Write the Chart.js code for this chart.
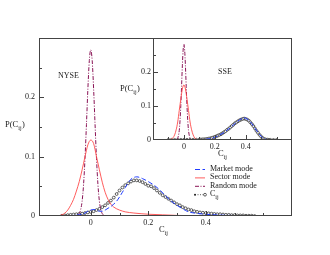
<!DOCTYPE html>
<html>
<head>
<meta charset="utf-8">
<script src="https://cdn.jsdelivr.net/npm/chart.js@4"></script>
<style>
  body { margin: 0; background: #fff; }
  #wrap { position: relative; width: 330px; height: 255px; }
  #main { position: absolute; left: 0; top: 0; }
  #inset { position: absolute; left: 100px; top: 20px; }
</style>
</head>
<body>
<div id="wrap">
  <canvas id="main" width="330" height="255"></canvas>
  <canvas id="inset" width="200" height="150"></canvas>
</div>
<script>
// --- Data ---
const seriesNames = ['Market mode', 'Sector mode', 'Random mode', 'C'];
const xTickLabels = [0, 0.2, 0.4];
const yTickLabels = [0, 0.1, 0.2];

// NYSE (main panel)
const nyseMarket = [[-0.18,0],[-0.1,0.0005],[-0.06,0.001],[-0.04,0.002],[-0.02,0.005],[-0.01,0.008],[0,0.01],[0.01,0.011],[0.02,0.01],[0.03,0.008],[0.04,0.008],[0.05,0.01],[0.06,0.013],[0.07,0.016],[0.08,0.02],[0.09,0.025],[0.1,0.032],[0.11,0.04],[0.12,0.048],[0.13,0.056],[0.14,0.062],[0.15,0.065],[0.16,0.066],[0.17,0.065],[0.18,0.063],[0.2,0.058],[0.22,0.052],[0.24,0.044],[0.26,0.034],[0.28,0.025],[0.3,0.018],[0.32,0.012],[0.34,0.007],[0.36,0.005],[0.4,0.003],[0.45,0.0015],[0.5,0.0008],[0.6,0.0003],[0.7,0]];
const nyseSector = [[-0.18,0],[-0.12,0],[-0.1,0.002],[-0.09,0.005],[-0.08,0.01],[-0.07,0.018],[-0.06,0.028],[-0.05,0.042],[-0.04,0.058],[-0.03,0.078],[-0.02,0.1],[-0.01,0.12],[0,0.128],[0.01,0.122],[0.02,0.1],[0.03,0.078],[0.04,0.057],[0.05,0.04],[0.06,0.028],[0.07,0.02],[0.08,0.015],[0.1,0.01],[0.12,0.007],[0.15,0.005],[0.2,0.003],[0.25,0.002],[0.3,0.001],[0.4,0.0005],[0.5,0],[0.7,0]];
const nyseRandom = [[-0.18,0],[-0.06,0],[-0.05,0.0005],[-0.04,0.004],[-0.035,0.011],[-0.03,0.025],[-0.025,0.053],[-0.02,0.097],[-0.015,0.154],[-0.01,0.214],[-0.005,0.262],[0,0.28],[0.005,0.262],[0.01,0.214],[0.015,0.154],[0.02,0.097],[0.025,0.053],[0.03,0.025],[0.035,0.011],[0.04,0.004],[0.05,0.0005],[0.06,0],[0.7,0]];
const nyseCij = [[-0.1,0.0005],[-0.09,0.001],[-0.08,0.0015],[-0.07,0.002],[-0.06,0.0025],[-0.05,0.003],[-0.04,0.0035],[-0.03,0.004],[-0.02,0.005],[-0.01,0.006],[0,0.007],[0.01,0.008],[0.02,0.01],[0.03,0.012],[0.04,0.015],[0.05,0.018],[0.06,0.022],[0.07,0.026],[0.08,0.031],[0.09,0.037],[0.1,0.043],[0.11,0.048],[0.12,0.052],[0.13,0.055],[0.14,0.058],[0.15,0.06],[0.16,0.06],[0.17,0.059],[0.18,0.057],[0.19,0.054],[0.2,0.051],[0.21,0.05],[0.22,0.047],[0.23,0.043],[0.24,0.039],[0.25,0.035],[0.26,0.032],[0.27,0.029],[0.28,0.026],[0.29,0.023],[0.3,0.02],[0.31,0.018],[0.32,0.015],[0.33,0.013],[0.34,0.011],[0.35,0.01],[0.36,0.008],[0.37,0.007],[0.38,0.006],[0.39,0.0055],[0.4,0.005],[0.41,0.0045],[0.42,0.004],[0.43,0.0035],[0.44,0.003],[0.45,0.003],[0.46,0.0025],[0.47,0.002],[0.48,0.002],[0.49,0.0015],[0.5,0.0015],[0.51,0.001],[0.52,0.001],[0.53,0.001],[0.54,0.0005],[0.55,0.0005],[0.56,0.0005],[0.57,0]];

// SSE (inset)
const sseMarket = [[-0.2,0],[0,0.0005],[0.1,0.001],[0.14,0.002],[0.18,0.005],[0.2,0.008],[0.22,0.012],[0.24,0.017],[0.26,0.022],[0.28,0.029],[0.3,0.036],[0.32,0.044],[0.34,0.052],[0.36,0.059],[0.38,0.064],[0.39,0.065],[0.4,0.064],[0.42,0.058],[0.44,0.048],[0.46,0.035],[0.48,0.022],[0.5,0.011],[0.52,0.004],[0.54,0.001],[0.56,0],[0.7,0]];
const sseSector = [[-0.2,0],[-0.11,0],[-0.1,0.0005],[-0.09,0.001],[-0.08,0.003],[-0.07,0.007],[-0.06,0.015],[-0.05,0.03],[-0.04,0.053],[-0.03,0.087],[-0.02,0.12],[-0.01,0.15],[0,0.162],[0.01,0.15],[0.02,0.12],[0.03,0.087],[0.04,0.053],[0.05,0.03],[0.06,0.015],[0.07,0.006],[0.08,0.002],[0.1,0],[0.7,0]];
const sseRandom = [[-0.2,0],[-0.05,0],[-0.04,0.005],[-0.03,0.028],[-0.025,0.057],[-0.02,0.101],[-0.015,0.158],[-0.01,0.218],[-0.005,0.264],[0,0.282],[0.005,0.264],[0.01,0.218],[0.015,0.158],[0.02,0.101],[0.025,0.057],[0.03,0.028],[0.04,0.005],[0.05,0],[0.7,0]];
const sseCij = [[-0.1,0.0005],[-0.08,0.0005],[-0.06,0.0005],[-0.04,0.0005],[-0.02,0.0005],[0,0.0005],[0.02,0.0005],[0.04,0.0005],[0.06,0.0007],[0.08,0.001],[0.1,0.0012],[0.11,0.0015],[0.12,0.0018],[0.13,0.002],[0.14,0.0025],[0.15,0.003],[0.16,0.004],[0.17,0.005],[0.18,0.006],[0.19,0.0075],[0.2,0.009],[0.21,0.011],[0.22,0.013],[0.23,0.015],[0.24,0.017],[0.25,0.02],[0.26,0.023],[0.27,0.026],[0.28,0.03],[0.29,0.033],[0.3,0.037],[0.31,0.041],[0.32,0.045],[0.33,0.049],[0.34,0.052],[0.35,0.055],[0.36,0.058],[0.37,0.06],[0.38,0.062],[0.39,0.063],[0.4,0.062],[0.41,0.06],[0.42,0.057],[0.43,0.052],[0.44,0.047],[0.45,0.041],[0.46,0.034],[0.47,0.027],[0.48,0.021],[0.49,0.015],[0.5,0.01],[0.51,0.006],[0.52,0.003],[0.53,0.0015],[0.54,0.001],[0.55,0.0005],[0.56,0.0005],[0.58,0.0003],[0.6,0.0002]];

// --- Styles ---
const FONT = '"Liberation Serif", "Times New Roman", serif';
const INK = '#222';
const styles = [
  { borderColor: '#1f3cff', borderDash: [5, 2.5], borderWidth: 1 },
  { borderColor: '#ff4a4a', borderDash: [], borderWidth: 0.9 },
  { borderColor: '#8a1456', borderDash: [4, 1.5, 1, 1.5], borderWidth: 1 },
  { borderColor: '#333', borderDash: [1, 1.5], borderWidth: 0.8, pointRadius: 1.4 }
];

function pts(arr) { return arr.map(p => ({ x: p[0], y: p[1] })); }
const isLabel = (v, list) => list.some(l => Math.abs(l - v) < 1e-6);
const fmt = v => String(Math.round(v * 100) / 100);

function buildDatasets(series) {
  return series.map((s, i) => ({
    label: seriesNames[i],
    data: pts(s),
    borderColor: styles[i].borderColor,
    borderDash: styles[i].borderDash,
    borderWidth: styles[i].borderWidth,
    pointRadius: styles[i].pointRadius || 0,
    pointBorderColor: '#222',
    pointBackgroundColor: '#fff',
    pointBorderWidth: 0.7,
    fill: false,
    cubicInterpolationMode: 'monotone'
  }));
}

// text with a subscript, e.g. P(C_ij)
function subText(ctx, x, y, pre, sub, post, size) {
  ctx.font = size + 'px ' + FONT;
  ctx.fillText(pre, x, y);
  let w = ctx.measureText(pre).width;
  ctx.font = Math.round(size * 0.72) + 'px ' + FONT;
  ctx.fillText(sub, x + w, y + size * 0.35);
  w += ctx.measureText(sub).width + 0.5;
  ctx.font = size + 'px ' + FONT;
  if (post) ctx.fillText(post, x + w, y);
}

// frame + inward tick marks
const frame = {
  id: 'frame',
  afterDraw(chart) {
    const { ctx, chartArea: a, scales } = chart;
    ctx.save();
    ctx.strokeStyle = '#444';
    ctx.lineWidth = 1;
    ctx.strokeRect(a.left + 0.5, a.top + 0.5, a.right - a.left - 1, a.bottom - a.top - 1);
    const sx = scales.x, sy = scales.y;
    ctx.beginPath();
    sx.ticks.forEach(t => {
      if (Math.abs(t.value - sx.min) < 1e-6 || Math.abs(t.value - sx.max) < 1e-6) return;
      const px = Math.round(sx.getPixelForValue(t.value)) + 0.5;
      const len = isLabel(t.value, xTickLabels) ? 5 : 3;
      ctx.moveTo(px, a.bottom); ctx.lineTo(px, a.bottom - len);
    });
    sy.ticks.forEach(t => {
      if (Math.abs(t.value - sy.min) < 1e-6 || Math.abs(t.value - sy.max) < 1e-6) return;
      const py = Math.round(sy.getPixelForValue(t.value)) + 0.5;
      const len = isLabel(t.value, yTickLabels) ? 5 : 3;
      ctx.moveTo(a.left, py); ctx.lineTo(a.left + len, py);
    });
    ctx.stroke();
    ctx.restore();
  }
};

// free texts: axis titles and panel names
const notes = {
  id: 'notes',
  afterDraw(chart, args, opts) {
    const ctx = chart.ctx;
    ctx.save();
    ctx.fillStyle = INK;
    ctx.textBaseline = 'alphabetic';
    ctx.textAlign = 'left';
    subText(ctx, opts.ylab[0], opts.ylab[1], 'P(C', 'ij', ')', 8.5);
    subText(ctx, opts.xlab[0], opts.xlab[1], 'C', 'ij', '', 8.5);
    ctx.font = '8px ' + FONT;
    ctx.fillText(opts.name, opts.nameAt[0], opts.nameAt[1]);
    ctx.restore();
  }
};

// legend drawn inside the main panel
const legendBox = {
  id: 'legendBox',
  afterDraw(chart, args, opts) {
    if (!opts.show) return;
    const ctx = chart.ctx;
    ctx.save();
    chart.data.datasets.forEach((ds, i) => {
      const y = opts.y0 + i * opts.dy;
      ctx.strokeStyle = ds.borderColor;
      ctx.lineWidth = ds.borderWidth;
      ctx.setLineDash(ds.borderDash);
      ctx.beginPath();
      ctx.moveTo(opts.x0, y + 0.5); ctx.lineTo(opts.x0 + 10, y + 0.5);
      ctx.stroke();
      ctx.setLineDash([]);
      if (ds.pointRadius) {
        ctx.fillStyle = '#222';
        ctx.beginPath(); ctx.arc(opts.x0, y + 0.5, 1, 0, Math.PI * 2); ctx.fill();
        ctx.fillStyle = '#fff'; ctx.strokeStyle = '#222'; ctx.lineWidth = 0.7;
        ctx.beginPath(); ctx.arc(opts.x0 + 10, y + 0.5, 1.4, 0, Math.PI * 2); ctx.fill(); ctx.stroke();
      }
      ctx.fillStyle = INK;
      ctx.textBaseline = 'middle';
      if (i === 3) subText(ctx, opts.x0 + 15, y, ds.label, 'ij', '', 8);
      else { ctx.font = '8px ' + FONT; ctx.fillText(ds.label, opts.x0 + 15, y); }
    });
    ctx.restore();
  }
};

function makeChart(id, series, box, xr, pad, yPad, opts) {
  return new Chart(document.getElementById(id), {
    type: 'line',
    data: { datasets: buildDatasets(series) },
    options: {
      responsive: false,
      animation: false,
      layout: { padding: pad },
      plugins: { legend: { display: false }, tooltip: { enabled: false }, notes: opts.notes, legendBox: opts.legend },
      scales: {
        x: {
          type: 'linear', min: xr[0], max: xr[1],
          grid: { display: false, drawTicks: false },
          border: { display: false },
          ticks: {
            stepSize: 0.1, autoSkip: false, maxRotation: 0, padding: 2,
            color: INK, font: { family: FONT, size: 8 },
            callback: v => isLabel(v, xTickLabels) ? fmt(v) : ''
          },
          afterFit: s => { s.height = box.xh; s.paddingLeft = 0; s.paddingRight = 0; }
        },
        y: {
          min: 0, max: 0.3,
          grid: { display: false, drawTicks: false },
          border: { display: false },
          ticks: {
            stepSize: 0.05, autoSkip: false, padding: yPad,
            color: INK, font: { family: FONT, size: 8 },
            callback: v => isLabel(v, yTickLabels) ? fmt(v) : ''
          },
          afterFit: s => { s.width = box.yw; s.paddingTop = 0; s.paddingBottom = 0; }
        }
      }
    },
    plugins: [frame, notes, legendBox]
  });
}

// main panel: plot area 39..292 x 38..216
makeChart('main', [nyseMarket, nyseSector, nyseRandom, nyseCij],
  { yw: 39, xh: 39 }, [-0.18, 0.7],
  { top: 38, right: 38, left: 0, bottom: 0 }, 4,
  {
    notes: { ylab: [5, 127], xlab: [159, 232], name: 'NYSE', nameAt: [58, 78] },
    legend: { show: true, x0: 195, y0: 169, dy: 8.4 }
  });

// inset panel: plot area 153..292 x 38..140 (canvas offset 100,20)
makeChart('inset', [sseMarket, sseSector, sseRandom, sseCij],
  { yw: 53, xh: 30 }, [-0.2, 0.7],
  { top: 18, right: 8, left: 0, bottom: 0 }, 2,
  {
    notes: { ylab: [20, 71], xlab: [118, 136], name: 'SSE', nameAt: [118, 54] },
    legend: { show: false }
  });
</script>
</body>
</html>
